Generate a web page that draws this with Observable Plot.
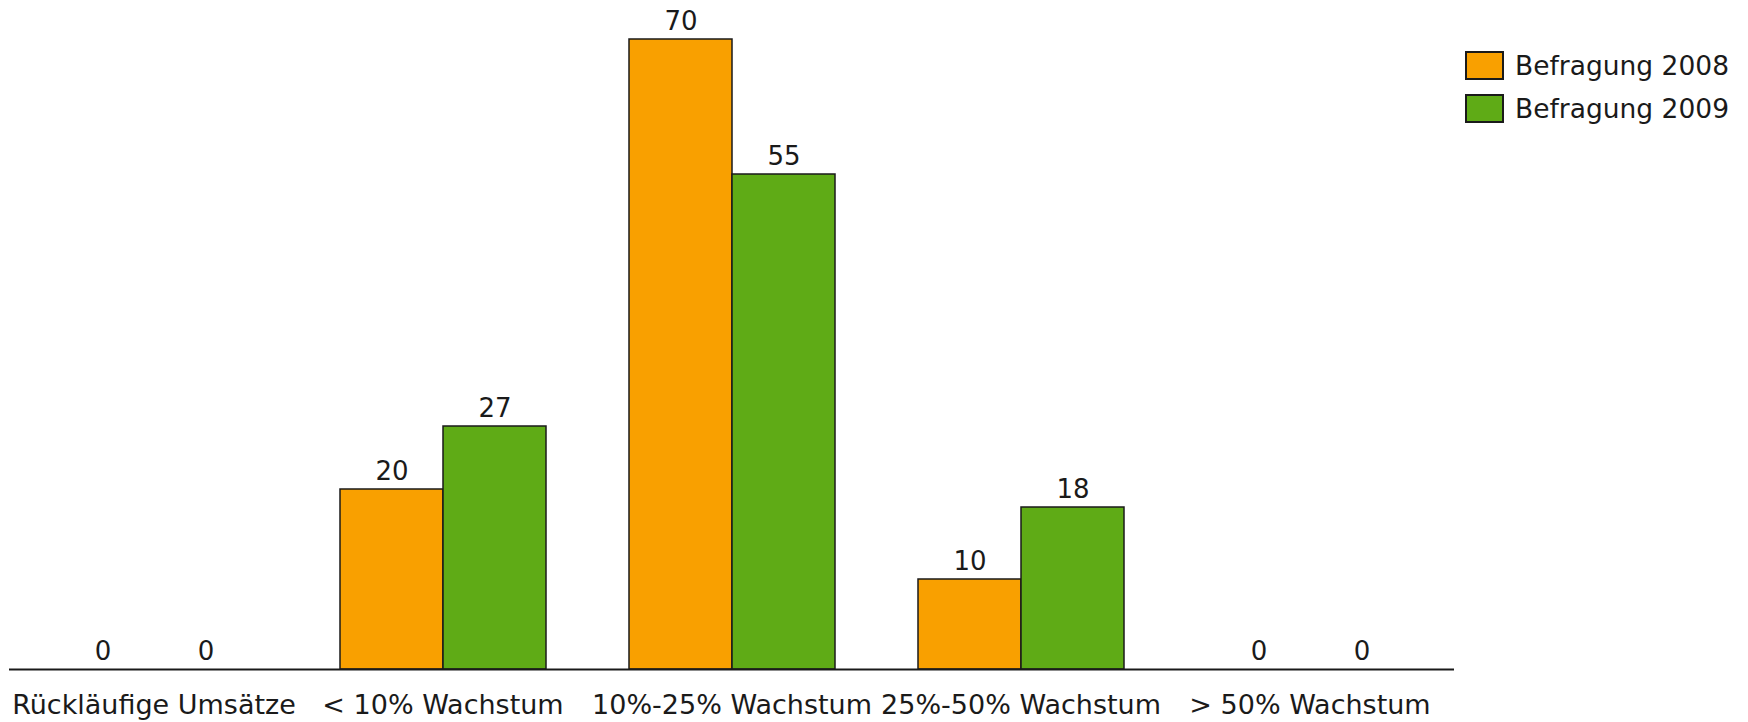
<!DOCTYPE html>
<html>
<head>
<meta charset="utf-8">
<script src="https://cdn.jsdelivr.net/npm/d3@7"></script>
<script src="https://cdn.jsdelivr.net/npm/@observablehq/plot@0.6"></script>
<style>
  html, body { margin: 0; padding: 0; background: #fff; }
  #wrap { position: relative; width: 1748px; height: 722px; font-family: "DejaVu Sans", sans-serif; }
  .legend { position: absolute; left: 1465px; top: 51px; }
  .legend .row { display: flex; align-items: center; height: 29px; margin-bottom: 14px; }
  .legend .sw { width: 35px; height: 25px; border: 2px solid #1a1a1a; margin-right: 11px; }
  .legend .lab { font-size: 26.5px; color: #1a1a1a; line-height: 29px; }
</style>
</head>
<body>
<div id="wrap"></div>
<script>
const categories = ["Rückläufige Umsätze", "< 10% Wachstum", "10%-25% Wachstum", "25%-50% Wachstum", "> 50% Wachstum"];
const seriesNames = ["Befragung 2008", "Befragung 2009"];
const values2008 = [0, 20, 70, 10, 0];
const values2009 = [0, 27, 55, 18, 0];
const colors = ["#f9a000", "#5fab16"];

const data = [];
categories.forEach((c, i) => {
  data.push({category: c, series: seriesNames[0], value: values2008[i]});
  data.push({category: c, series: seriesNames[1], value: values2009[i]});
});

const chart = Plot.plot({
  width: 1748,
  height: 722,
  marginLeft: 8,
  marginRight: 294,
  marginTop: 39,
  marginBottom: 53,
  style: {fontFamily: "DejaVu Sans, sans-serif", fontSize: "26px", color: "#1a1a1a", background: "white"},
  fx: {domain: categories, padding: 0, label: null},
  x: {domain: seriesNames, paddingInner: 0, paddingOuter: 0.394, axis: null},
  y: {domain: [0, 70], axis: null},
  color: {domain: seriesNames, range: colors},
  marks: [
    Plot.barY(data.filter(d => d.value > 0), {fx: "category", x: "series", y: "value", fill: "series", stroke: "#1a1a1a", strokeWidth: 1.5}),
    Plot.text(data, {fx: "category", x: "series", y: "value", text: d => String(d.value), lineAnchor: "bottom", dy: -10, fill: "#1a1a1a"}),
    Plot.ruleY([0], {stroke: "#1a1a1a", strokeWidth: 2}),
    Plot.axisFx({anchor: "bottom", tickSize: 0, tickPadding: 25, label: null, fontSize: 27, fill: "#1a1a1a"})
  ]
});

const wrap = document.getElementById("wrap");
wrap.appendChild(chart);

const legend = document.createElement("div");
legend.className = "legend";
seriesNames.forEach((s, i) => {
  const row = document.createElement("div");
  row.className = "row";
  const sw = document.createElement("div");
  sw.className = "sw";
  sw.style.background = colors[i];
  const lab = document.createElement("span");
  lab.className = "lab";
  lab.textContent = s;
  row.appendChild(sw);
  row.appendChild(lab);
  legend.appendChild(row);
});
wrap.appendChild(legend);
</script>
</body>
</html>
